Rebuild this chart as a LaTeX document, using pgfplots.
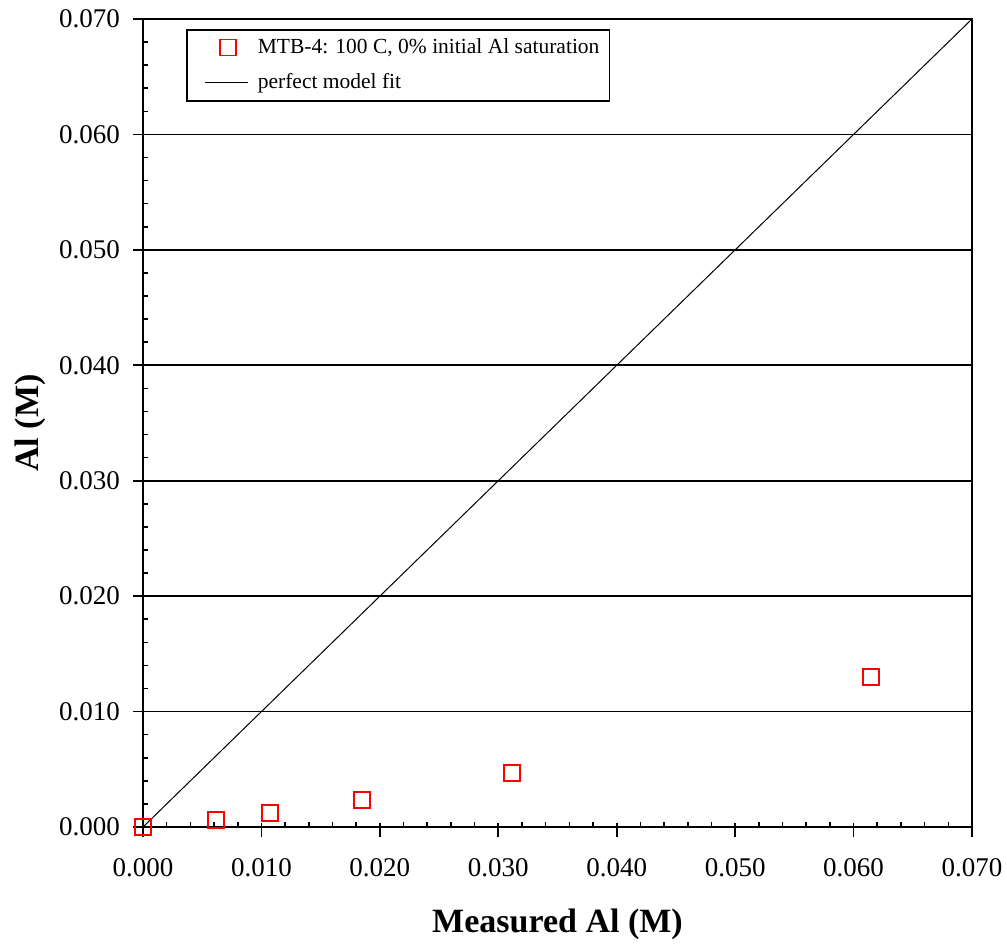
\documentclass[border=0pt]{standalone}
\usepackage{fontspec}
\setmainfont{Liberation Serif}
\usepackage{pgfplots}
\pgfplotsset{compat=1.18}
\pgfplotsset{
  square key/.style={legend image code/.code={%
    \path[draw=none] (0pt,0pt) -- (30.5pt,0pt);
    \draw[##1] plot coordinates {(17.5pt,0pt)};}},
  fit key/.style={legend image code/.code={%
    \path[draw=none] (0pt,0pt) -- (30.5pt,0pt);
    \draw[##1] (6pt,0pt) -- (27.5pt,0pt);}},
  % frame shared by the main axis and the inner-tick overlay
  al frame/.style={
    scale only axis,
    width=414.5pt, height=404pt,
    xmin=0, xmax=0.07, ymin=0, ymax=0.07,
    xtick={0,0.01,...,0.07}, ytick={0,0.01,...,0.07},
    scaled ticks=false,
    tick pos=left,
    every tick/.append style={black, line width=0.8pt},
  },
}

\begin{document}
\begin{tikzpicture}
\begin{axis}[
  al frame,
  tick align=outside,
  major tick length=5pt,
  axis line style={line width=1pt},
  ymajorgrids,
  major grid style={black, line width=0.8pt},
  /pgf/number format/assume math mode=true,
  /pgf/number format/fixed,
  /pgf/number format/fixed zerofill,
  /pgf/number format/precision=3,
  ticklabel style={font=\fontsize{13.5}{16}\selectfont},
  xticklabel style={yshift=-7pt},
  yticklabel style={xshift=-3pt},
  every axis x label/.style={at={(axis description cs:0.5,-0.12)}, anchor=center,
    font=\bfseries\fontsize{17}{20}\selectfont},
  every axis y label/.style={at={(axis description cs:-0.1363,0.5)}, anchor=center,
    rotate=90, font=\bfseries\fontsize{17}{20}\selectfont},
  xlabel={Measured Al (M)},
  ylabel={Al (M)},
  clip=false,
  legend cell align=left,
  legend style={at={(axis description cs:0.052,0.9876)}, anchor=north west,
    draw=black, line width=0.75pt, font=\fontsize{10.75}{13}\selectfont,
    inner xsep=3pt, inner ysep=2.5pt, row sep=4.5pt},
]
\addplot[only marks, mark=square, mark size=4pt, red, line width=0.75pt, square key]
  coordinates {(0,0) (0.00616,0.0006) (0.01072,0.00121) (0.01849,0.00234)
               (0.03116,0.00468) (0.06147,0.0130)};
\addlegendentry{MTB-4: 100 C, 0\% initial Al saturation}
\addplot[black, line width=0.5pt, fit key]
  coordinates {(0,0) (0.07,0.07)};
\addlegendentry{perfect model fit}
\end{axis}
% inner part of the major ticks and the minor ticks
\begin{axis}[
  al frame,
  tick align=inside,
  major tick length=2pt,
  minor tick length=2.6pt,
  minor tick num=4,
  axis line style={draw=none},
  xticklabels={}, yticklabels={},
]
\end{axis}
\pgfresetboundingbox
\path ([xshift=-71.5pt,yshift=-59pt]current axis.south west)
  rectangle ([xshift=17.5pt,yshift=9.5pt]current axis.north east);
\end{tikzpicture}
\end{document}
